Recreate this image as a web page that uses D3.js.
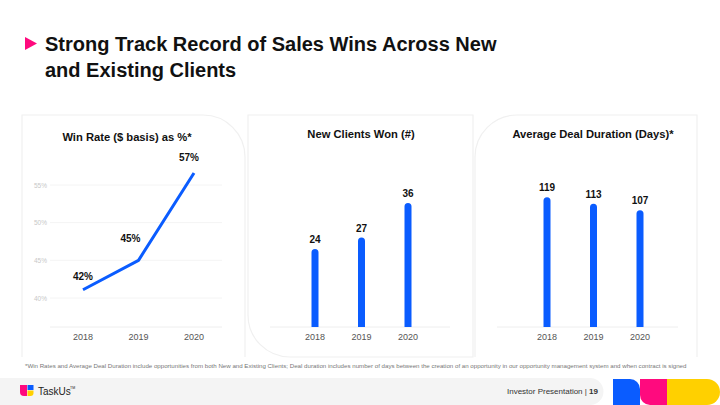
<!DOCTYPE html>
<html>
<head>
<meta charset="utf-8">
<script src="https://cdn.jsdelivr.net/npm/d3@7"></script>
<style>
  html, body { margin: 0; padding: 0; background: #fff; }
  svg { display: block; font-family: "Liberation Sans", Arial, sans-serif; }
</style>
</head>
<body>
<svg id="chart" width="720" height="405"></svg>
<script>
// data
const years = ['2018', '2019', '2020'];
const winRate = [41.1, 45.0, 56.6];
const winRateLabels = ['42%', '45%', '57%'];
const winRateTicks = [40, 45, 50, 55];
const newClients = [24, 27, 36];
const dealDays = [119, 113, 107];

const BLUE = '#0a5cff';
const PINK = '#ff0a7e';
const YELLOW = '#ffd000';

const svg = d3.select('#chart');

// header
svg.append('path')
  .attr('d', 'M25,37 L37,43.5 L25,50 Z')
  .attr('fill', PINK);
const title = svg.append('text')
  .attr('x', 45).attr('y', 51)
  .attr('font-size', 20).attr('font-weight', 'bold').attr('fill', '#111');
title.append('tspan').text('Strong Track Record of Sales Wins Across New');
title.append('tspan').attr('x', 45).attr('dy', 26).text('and Existing Clients');

// panel outlines (faint, one big rounded corner each)
const R = 42;
const panelPaths = [
  `M22,357 L22,115 L${245 - R},115 A${R},${R} 0 0 1 245,${115 + R} L245,357`,
  `M248,115 L473,115 L473,357 L${248 + R},357 A${R},${R} 0 0 1 248,${357 - R} Z`,
  `M475,357 L475,${115 + R} A${R},${R} 0 0 1 ${475 + R},115 L697,115 L697,357`
];
svg.selectAll('path.panel').data(panelPaths).join('path')
  .attr('class', 'panel')
  .attr('d', d => d)
  .attr('fill', 'none')
  .attr('stroke', '#f0f0f0')
  .attr('stroke-width', 1.2);

function chartTitle(x, y, txt) {
  svg.append('text').attr('x', x).attr('y', y)
    .attr('text-anchor', 'middle')
    .attr('font-size', 11.2).attr('font-weight', 'bold').attr('fill', '#111')
    .text(txt);
}

function xAxis(x, x0, x1, yBase) {
  svg.append('line')
    .attr('x1', x0).attr('x2', x1).attr('y1', yBase).attr('y2', yBase)
    .attr('stroke', '#eeeeee').attr('stroke-width', 1);
  svg.append('g').selectAll('text').data(years).join('text')
    .attr('x', d => x(d)).attr('y', yBase + 13)
    .attr('text-anchor', 'middle')
    .attr('font-size', 9).attr('fill', '#555')
    .text(d => d);
}

// chart 1: win rate line
(function () {
  const x = d3.scalePoint().domain(years).range([83, 194]);
  const y = d3.scaleLinear().domain([40, 55]).range([298, 185]);
  chartTitle(127, 141, 'Win Rate ($ basis) as %*');

  const g = svg.append('g');
  g.selectAll('line.grid').data(winRateTicks).join('line')
    .attr('class', 'grid')
    .attr('x1', 50).attr('x2', 222)
    .attr('y1', d => y(d)).attr('y2', d => y(d))
    .attr('stroke', '#f4f4f4');
  g.selectAll('text.tick').data(winRateTicks).join('text')
    .attr('class', 'tick')
    .attr('x', 47).attr('y', d => y(d) + 2.5)
    .attr('text-anchor', 'end')
    .attr('font-size', 6.5).attr('fill', '#c8c8c8')
    .text(d => d + '%');

  xAxis(x, 50, 222, 327);

  const line = d3.line().x((d, i) => x(years[i])).y(d => y(d));
  g.append('path').datum(winRate)
    .attr('d', line)
    .attr('fill', 'none').attr('stroke', BLUE)
    .attr('stroke-width', 3).attr('stroke-linejoin', 'round');

  const offs = [[0, -10], [-8, -18], [-5, -12]];
  g.selectAll('text.val').data(winRate).join('text')
    .attr('class', 'val')
    .attr('x', (d, i) => x(years[i]) + offs[i][0])
    .attr('y', (d, i) => y(d) + offs[i][1])
    .attr('text-anchor', 'middle')
    .attr('font-size', 10).attr('font-weight', 'bold').attr('fill', '#111')
    .text((d, i) => winRateLabels[i]);
})();

// bar charts
function barChart(values, xr, yScale, titleX, titleTxt, axisX0, axisX1) {
  const x = d3.scalePoint().domain(years).range(xr);
  const base = 327;
  const bw = 7;
  chartTitle(titleX, 138, titleTxt);
  xAxis(x, axisX0, axisX1, base);
  const g = svg.append('g');
  g.selectAll('path.bar').data(values).join('path')
    .attr('class', 'bar')
    .attr('d', (d, i) => {
      const cx = x(years[i]), top = yScale(d), r = bw / 2;
      return `M${cx - r},${base} L${cx - r},${top + r} A${r},${r} 0 0 1 ${cx + r},${top + r} L${cx + r},${base} Z`;
    })
    .attr('fill', BLUE);
  g.selectAll('text.val').data(values).join('text')
    .attr('class', 'val')
    .attr('x', (d, i) => x(years[i]))
    .attr('y', d => yScale(d) - 6)
    .attr('text-anchor', 'middle')
    .attr('font-size', 10).attr('font-weight', 'bold').attr('fill', '#111')
    .text(d => d);
}

barChart(newClients, [315, 408],
  d3.scaleLinear().domain([0, 40]).range([341, 341 - 40 * 3.83]),
  361, 'New Clients Won (#)', 270, 450);

barChart(dealDays, [547, 640],
  d3.scaleLinear().domain([0, 120]).range([327, 327 - 120 * 1.09]),
  593, 'Average Deal Duration (Days)*', 497, 678);

// footnote
svg.append('text')
  .attr('x', 25).attr('y', 368)
  .attr('font-size', 6.15).attr('fill', '#777')
  .text('*Win Rates and Average Deal Duration include opportunities from both New and Existing Clients; Deal duration includes number of days between the creation of an opportunity in our opportunity management system and when contract is signed');

// footer bar
svg.append('path')
  .attr('d', 'M0,378 L590,378 A13.5,13.5 0 0 1 590,405 L0,405 Z')
  .attr('fill', '#f4f4f4');

// TaskUs logo
svg.append('path')
  .attr('d', 'M20,385 L27,385 L27,396 L24,396 A4,4 0 0 1 20,392 Z')
  .attr('fill', PINK);
svg.append('rect').attr('x', 27.5).attr('y', 385).attr('width', 6).attr('height', 5).attr('fill', BLUE);
svg.append('path')
  .attr('d', 'M27.5,390.5 L33.5,390.5 L33.5,393 A3,3 0 0 1 30.5,396 L27.5,396 Z')
  .attr('fill', YELLOW);
svg.append('text').attr('x', 38).attr('y', 395)
  .attr('font-size', 10).attr('fill', '#222').text('TaskUs');
svg.append('text').attr('x', 70).attr('y', 389)
  .attr('font-size', 3.5).attr('fill', '#222').text('TM');

const foot = svg.append('text').attr('x', 598).attr('y', 394)
  .attr('text-anchor', 'end').attr('font-size', 8).attr('fill', '#333');
foot.append('tspan').text('Investor Presentation | ');
foot.append('tspan').attr('font-weight', 'bold').text('19');

// brand shapes at bottom right
svg.append('path')
  .attr('d', 'M613,405 L613,379 L630,379 A10,10 0 0 1 640,389 L640,405 Z')
  .attr('fill', BLUE);
svg.append('path')
  .attr('d', 'M640,379 L667,379 L667,405 L650,405 A10,10 0 0 1 640,395 Z')
  .attr('fill', PINK);
svg.append('path')
  .attr('d', 'M667,379 L707,379 A13,13 0 0 1 707,405 L667,405 Z')
  .attr('fill', YELLOW);
</script>
</body>
</html>
